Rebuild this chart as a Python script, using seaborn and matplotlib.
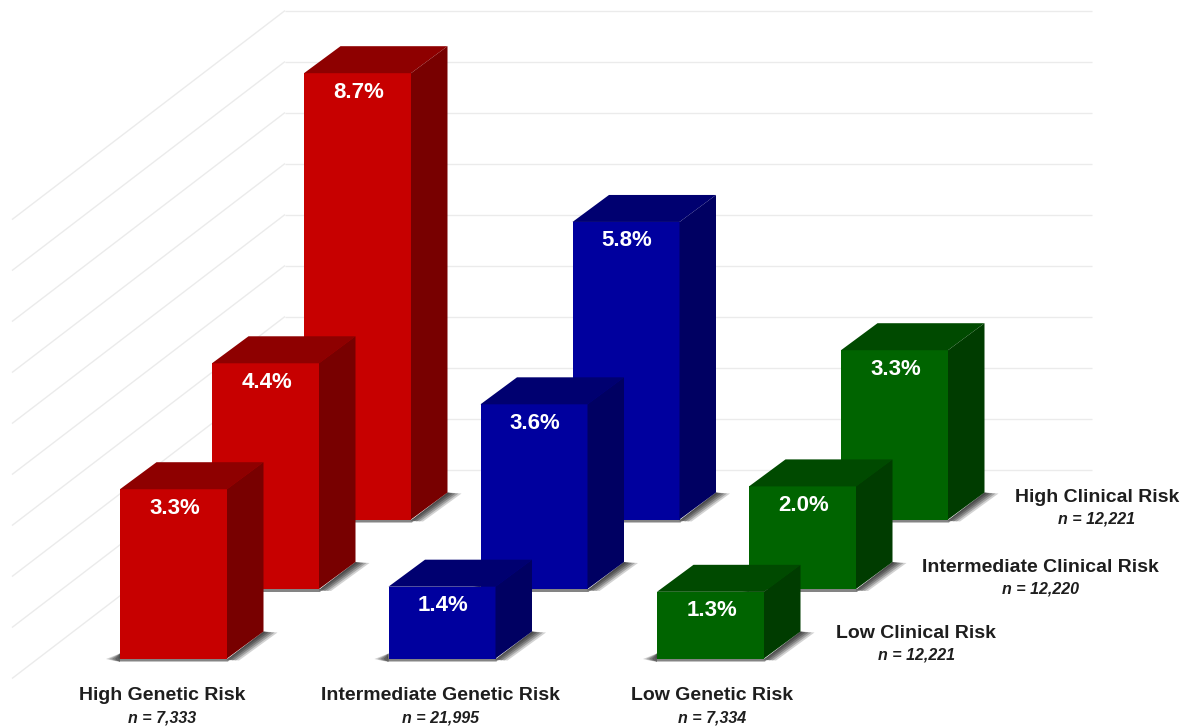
import matplotlib
matplotlib.use("Agg")
import matplotlib.pyplot as plt
import numpy as np
import pandas as pd
import seaborn as sns
from matplotlib.patches import Polygon

# Event rates (%) by genetic risk group, one list per clinical risk tier
genetic_groups = ["High Genetic Risk", "Intermediate Genetic Risk", "Low Genetic Risk"]
genetic_counts = ["n = 7,333", "n = 21,995", "n = 7,334"]
clinical_groups = ["High Clinical Risk", "Intermediate Clinical Risk", "Low Clinical Risk"]
clinical_counts = ["n = 12,221", "n = 12,220", "n = 12,221"]
high_clinical = [8.7, 5.8, 3.3]
intermediate_clinical = [4.4, 3.6, 2.0]
low_clinical = [3.3, 1.4, 1.3]
tiers = [high_clinical, intermediate_clinical, low_clinical]
grid_levels = [0, 1, 2, 3, 4, 5, 6, 7, 8, 9]

# Face colours for each genetic group
front_colors = {genetic_groups[0]: "#C70000", genetic_groups[1]: "#00009E", genetic_groups[2]: "#006400"}
top_colors = {genetic_groups[0]: "#8E0000", genetic_groups[1]: "#000070", genetic_groups[2]: "#004A00"}
side_colors = {genetic_groups[0]: "#780000", genetic_groups[1]: "#000062", genetic_groups[2]: "#003C00"}

# Oblique projection geometry: x axis in pixels, y axis in percentage points
W, H = 1187, 728
PX_PER_PCT = 51.3
WALL_Y = 469.5
BAR_W = 107.0
DEPTH_X, DEPTH_Y = 36.5, 27.0
COLUMN_STEP = 268.5
TIER_STEP_X = 92.0
FRONT_X = 120.0
TIER_BASE_Y = [519.5, 589.0, 658.5]
GRID_STEP = 0.994


def y_of(py):
    """Value-axis coordinate of a given vertical pixel row."""
    return (WALL_Y - py) / PX_PER_PCT


plt.rcParams["font.family"] = ["Liberation Sans", "DejaVu Sans"]
sns.set_theme(style="white", rc={"font.family": ["Liberation Sans", "DejaVu Sans"]})

fig = plt.figure(figsize=(W / 100, H / 100), dpi=100)
ax = fig.add_axes([0, 0, 1, 1])

# Back wall and side wall grid
for level in grid_levels:
    y = level * GRID_STEP
    ax.plot([285, 1092], [y, y], color="#EBEBEB", lw=1.0, zorder=0, solid_capstyle="butt")
    ax.plot([12, 285], [y - 209 / PX_PER_PCT, y], color="#EBEBEB", lw=1.0, zorder=0, solid_capstyle="butt")


def draw_shadow(x0, base):
    """Soft shadow cast along the base and to the right of a bar."""
    x1 = x0 + BAR_W
    dy = DEPTH_Y / PX_PER_PCT
    px = 1 / PX_PER_PCT
    for spread, alpha in zip([14, 11, 8, 5, 2], [0.22, 0.28, 0.34, 0.4, 0.45]):
        ax.add_patch(Polygon(
            [(x1, base - 1 * px), (x1 + DEPTH_X, base + dy), (x1 + DEPTH_X + spread, base + dy - px),
             (x1 + spread - 2, base - 2 * px)],
            closed=True, fc="#333333", ec="none", alpha=alpha, zorder=1))
        ax.add_patch(Polygon(
            [(x0 - spread, base - 0.5 * px), (x0, base + 5 * px), (x0, base - 3 * px), (x0 - spread * 0.4, base - 2.5 * px)],
            closed=True, fc="#333333", ec="none", alpha=alpha, zorder=1))
    ax.add_patch(Polygon(
        [(x0 - 4, base), (x1 + 4, base), (x1 + 1, base - 3 * px), (x0 - 1, base - 3 * px)],
        closed=True, fc="#666666", ec="none", alpha=0.8, zorder=1))


# Tiers are drawn from the back row to the front row so nearer bars overlap
for tier, (values, base_py) in enumerate(zip(tiers, TIER_BASE_Y)):
    left = FRONT_X + TIER_STEP_X * (2 - tier)
    lefts = [left + COLUMN_STEP * i for i in range(3)]
    base = y_of(base_py)
    for x0 in lefts:
        draw_shadow(x0, base)
    frame = pd.DataFrame({
        "center": [x + BAR_W / 2 for x in lefts],
        "value": values,
        "genetic": genetic_groups,
    })
    sns.barplot(data=frame, x="center", y="value", hue="genetic", palette=front_colors,
                native_scale=True, dodge=False, legend=False, errorbar=None, saturation=1,
                width=BAR_W / COLUMN_STEP, bottom=base, linewidth=0, ax=ax)
    dy = DEPTH_Y / PX_PER_PCT
    for x0, value, group in zip(lefts, values, genetic_groups):
        top = base + value
        x1 = x0 + BAR_W
        ax.add_patch(Polygon([(x0, top), (x1, top), (x1 + DEPTH_X, top + dy), (x0 + DEPTH_X, top + dy)],
                             closed=True, fc=top_colors[group], ec="none"))
        ax.add_patch(Polygon([(x1, base), (x1 + DEPTH_X, base + dy), (x1 + DEPTH_X, top + dy), (x1, top)],
                             closed=True, fc=side_colors[group], ec="none"))
        ax.text(x0 + BAR_W / 2 + 1, top - 19 / PX_PER_PCT, f"{value:.1f}%", color="white",
                fontsize=16, fontweight="bold", ha="center", va="center", zorder=5)

# Genetic risk captions under the front row
TEXT_COLOR = "#1E1E1E"
for name, count, cx in zip(genetic_groups, genetic_counts, [162.5, 440, 712]):
    ax.text(cx, y_of(696), name, color=TEXT_COLOR, fontsize=14, fontweight="bold", ha="center", va="center")
    ax.text(cx, y_of(718), count, color=TEXT_COLOR, fontsize=11.5, fontweight="bold", style="italic",
            ha="center", va="center")

# Clinical risk captions beside each row
for name, count, cx, py in zip(clinical_groups, clinical_counts, [1097, 1040, 916], [497, 567, 633]):
    ax.text(cx, y_of(py), name, color=TEXT_COLOR, fontsize=14, fontweight="bold", ha="center", va="center")
    ax.text(cx, y_of(py + 22), count, color=TEXT_COLOR, fontsize=11.5, fontweight="bold", style="italic",
            ha="center", va="center")

ax.set_xlim(0, W)
ax.set_ylim(y_of(H), y_of(0))
ax.axis("off")
fig.savefig("out.png", dpi=100, facecolor="white")
